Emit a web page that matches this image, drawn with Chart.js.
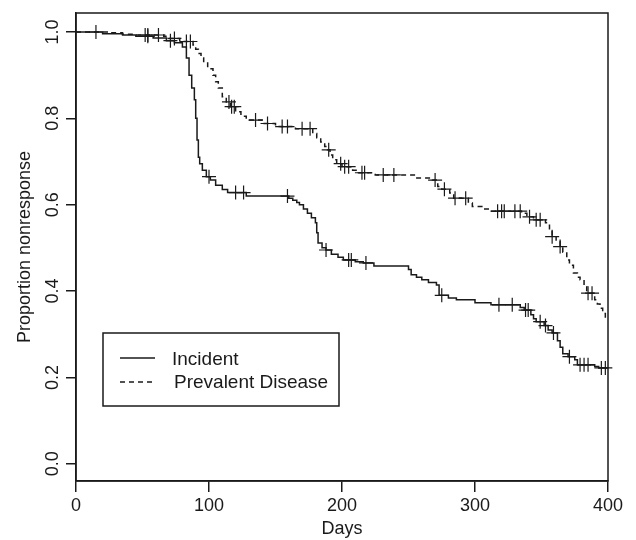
<!DOCTYPE html>
<html>
<head>
<meta charset="utf-8">
<script src="https://cdn.jsdelivr.net/npm/chart.js@4"></script>
<style>
  body { margin: 0; background: #fff; }
  #wrap { width: 636px; height: 540px; }
</style>
</head>
<body>
<div id="wrap"><canvas id="km" width="636" height="540"></canvas></div>
<script>
// event times and survival after each drop
const incidentDays = [0, 20, 35, 45, 58, 68, 74, 80, 83, 85, 87, 89, 90, 91, 92, 93, 95, 98, 101, 105, 110, 114, 128,
  160, 163, 166, 168, 171, 174, 177, 180, 181, 182, 185, 188, 192, 197, 201, 210, 216, 224,
  250, 252, 256, 260, 265, 271, 273, 280, 286, 300, 312, 334, 337, 342, 344, 346, 352, 355, 358,
  362, 364, 366, 370, 375, 377, 390, 393];
const incidentSurv = [1.0, 0.996, 0.993, 0.99, 0.986, 0.98, 0.975, 0.965, 0.94, 0.90, 0.87, 0.843, 0.80, 0.75, 0.71, 0.695, 0.68, 0.665, 0.657, 0.645, 0.635, 0.628, 0.62,
  0.615, 0.61, 0.605, 0.60, 0.59, 0.58, 0.57, 0.558, 0.535, 0.511, 0.50, 0.495, 0.485, 0.478, 0.472, 0.468, 0.465, 0.458,
  0.45, 0.438, 0.432, 0.426, 0.42, 0.414, 0.39, 0.384, 0.38, 0.373, 0.368, 0.362, 0.356, 0.345, 0.336, 0.329, 0.32, 0.31, 0.303,
  0.285, 0.27, 0.255, 0.248, 0.241, 0.229, 0.225, 0.222];
const incidentCensored = [15, 54, 71, 100, 120, 126, 159, 188, 205, 207, 218, 275, 318, 328, 338, 340, 349, 353, 359,
  371, 379, 382, 385, 395, 398];

const prevalentDays = [0, 25, 35, 45, 66, 70, 78, 88, 90, 92, 94, 96, 99, 103, 105, 107, 110, 113, 116, 120, 124, 128,
  140, 150, 165, 178, 181, 184, 187, 189, 191, 193, 196, 200, 208, 212, 225, 255, 268, 272, 275, 281, 284,
  295, 298, 306, 311, 335, 339, 344, 353, 356, 358, 361, 364, 366, 369, 371, 374, 377, 379, 382, 384,
  390, 392, 394, 396, 398];
const prevalentSurv = [1.0, 0.998, 0.995, 0.993, 0.99, 0.985, 0.978, 0.97, 0.96, 0.95, 0.94, 0.928, 0.915, 0.90, 0.885, 0.87, 0.85, 0.838, 0.827, 0.815, 0.805, 0.796,
  0.788, 0.781, 0.776, 0.765, 0.755, 0.745, 0.735, 0.727, 0.715, 0.704, 0.695, 0.688, 0.68, 0.674, 0.669, 0.662, 0.657, 0.642, 0.636, 0.627, 0.615,
  0.604, 0.596, 0.59, 0.585, 0.58, 0.572, 0.565, 0.558, 0.54, 0.526, 0.515, 0.503, 0.49, 0.472, 0.46, 0.442, 0.432, 0.426, 0.41, 0.395,
  0.38, 0.37, 0.36, 0.348, 0.338];
const prevalentCensored = [52, 54, 62, 74, 83, 86, 115, 117, 119, 135, 144, 155, 159, 170, 176, 190, 199, 202, 205,
  215, 217, 231, 239, 270, 277, 285, 293, 317, 320, 322, 330, 334, 341, 346, 349, 358, 364, 385, 388];

const xTicks = [0, 100, 200, 300, 400];
const yTicks = [0.0, 0.2, 0.4, 0.6, 0.8, 1.0];
const legendLabels = ["Incident", "Prevalent Disease"];

const ink = "#1a1a1a";
const fontFam = "'Liberation Sans', Arial, sans-serif";

function curve(days, surv) {
  const pts = days.map((d, i) => ({ x: d, y: surv[i] }));
  pts.push({ x: 400, y: surv[surv.length - 1] });
  return pts;
}

function survAt(days, surv, t) {
  let v = surv[0];
  for (let i = 0; i < days.length; i++) {
    if (days[i] <= t) v = surv[i];
  }
  return v;
}

function marks(days, surv, cens) {
  return cens.map(t => ({ x: t, y: survAt(days, surv, t) }));
}

const framePlugin = {
  id: "frame",
  afterDraw(chart) {
    const { ctx, chartArea: a, scales } = chart;
    ctx.save();
    ctx.strokeStyle = ink;
    ctx.lineWidth = 1.5;
    ctx.strokeRect(a.left, a.top, a.right - a.left, a.bottom - a.top);

    // y tick labels, rotated like R
    ctx.fillStyle = ink;
    ctx.font = "18px " + fontFam;
    ctx.textAlign = "center";
    ctx.textBaseline = "middle";
    yTicks.forEach(v => {
      const y = scales.y.getPixelForValue(v);
      ctx.save();
      ctx.translate(53, y);
      ctx.rotate(-Math.PI / 2);
      ctx.fillText(v.toFixed(1), 0, 0);
      ctx.restore();
    });

    // legend box
    ctx.lineWidth = 1.5;
    ctx.strokeRect(103, 333, 236, 73);
    ctx.lineWidth = 1.3;
    ctx.beginPath();
    ctx.moveTo(120, 358);
    ctx.lineTo(155, 358);
    ctx.stroke();
    ctx.setLineDash([5, 4]);
    ctx.beginPath();
    ctx.moveTo(120, 382);
    ctx.lineTo(155, 382);
    ctx.stroke();
    ctx.setLineDash([]);
    ctx.font = "19px " + fontFam;
    ctx.textAlign = "left";
    ctx.fillText(legendLabels[0], 172, 360);
    ctx.fillText(legendLabels[1], 174, 383);
    ctx.restore();
  }
};

new Chart(document.getElementById("km"), {
  type: "scatter",
  data: {
    datasets: [
      {
        label: legendLabels[0],
        data: curve(incidentDays, incidentSurv),
        showLine: true,
        stepped: "before",
        borderColor: ink,
        borderWidth: 1.5,
        pointRadius: 0,
      },
      {
        label: legendLabels[1],
        data: curve(prevalentDays, prevalentSurv),
        showLine: true,
        stepped: "before",
        borderColor: ink,
        borderWidth: 1.5,
        borderDash: [5, 4],
        pointRadius: 0,
      },
      {
        data: marks(incidentDays, incidentSurv, incidentCensored),
        pointStyle: "cross",
        pointRadius: 7,
        borderColor: ink,
        borderWidth: 1.2,
        clip: 7,
      },
      {
        data: marks(prevalentDays, prevalentSurv, prevalentCensored),
        pointStyle: "cross",
        pointRadius: 7,
        borderColor: ink,
        borderWidth: 1.2,
        clip: 7,
      },
    ],
  },
  options: {
    responsive: false,
    animation: false,
    layout: { padding: { top: 13, right: 28, left: 0, bottom: 0 } },
    plugins: { legend: { display: false }, tooltip: { enabled: false } },
    scales: {
      x: {
        type: "linear",
        min: 0,
        max: 400,
        afterBuildTicks: s => { s.ticks = xTicks.map(v => ({ value: v })); },
        afterFit: s => { s.height = 59; },
        grid: { drawOnChartArea: false, tickLength: 11, color: ink, lineWidth: 1.5 },
        border: { display: true, color: ink, width: 1.5 },
        ticks: { color: ink, font: { size: 18, family: fontFam }, maxRotation: 0, padding: 3 },
        title: { display: true, text: "Days", color: ink, font: { size: 18, family: fontFam }, padding: 0 },
      },
      y: {
        type: "linear",
        min: -0.04,
        max: 1.044,
        afterBuildTicks: s => { s.ticks = yTicks.map(v => ({ value: v })); },
        afterFit: s => { s.width = 76; },
        grid: { drawOnChartArea: false, tickLength: 10, color: ink, lineWidth: 1.5 },
        border: { display: true, color: ink, width: 1.5 },
        ticks: { display: false },
        title: { display: true, text: "Proportion nonresponse", color: ink, font: { size: 18, family: fontFam }, padding: { top: 14, bottom: 0 } },
      },
    },
  },
  plugins: [framePlugin],
});
</script>
</body>
</html>
